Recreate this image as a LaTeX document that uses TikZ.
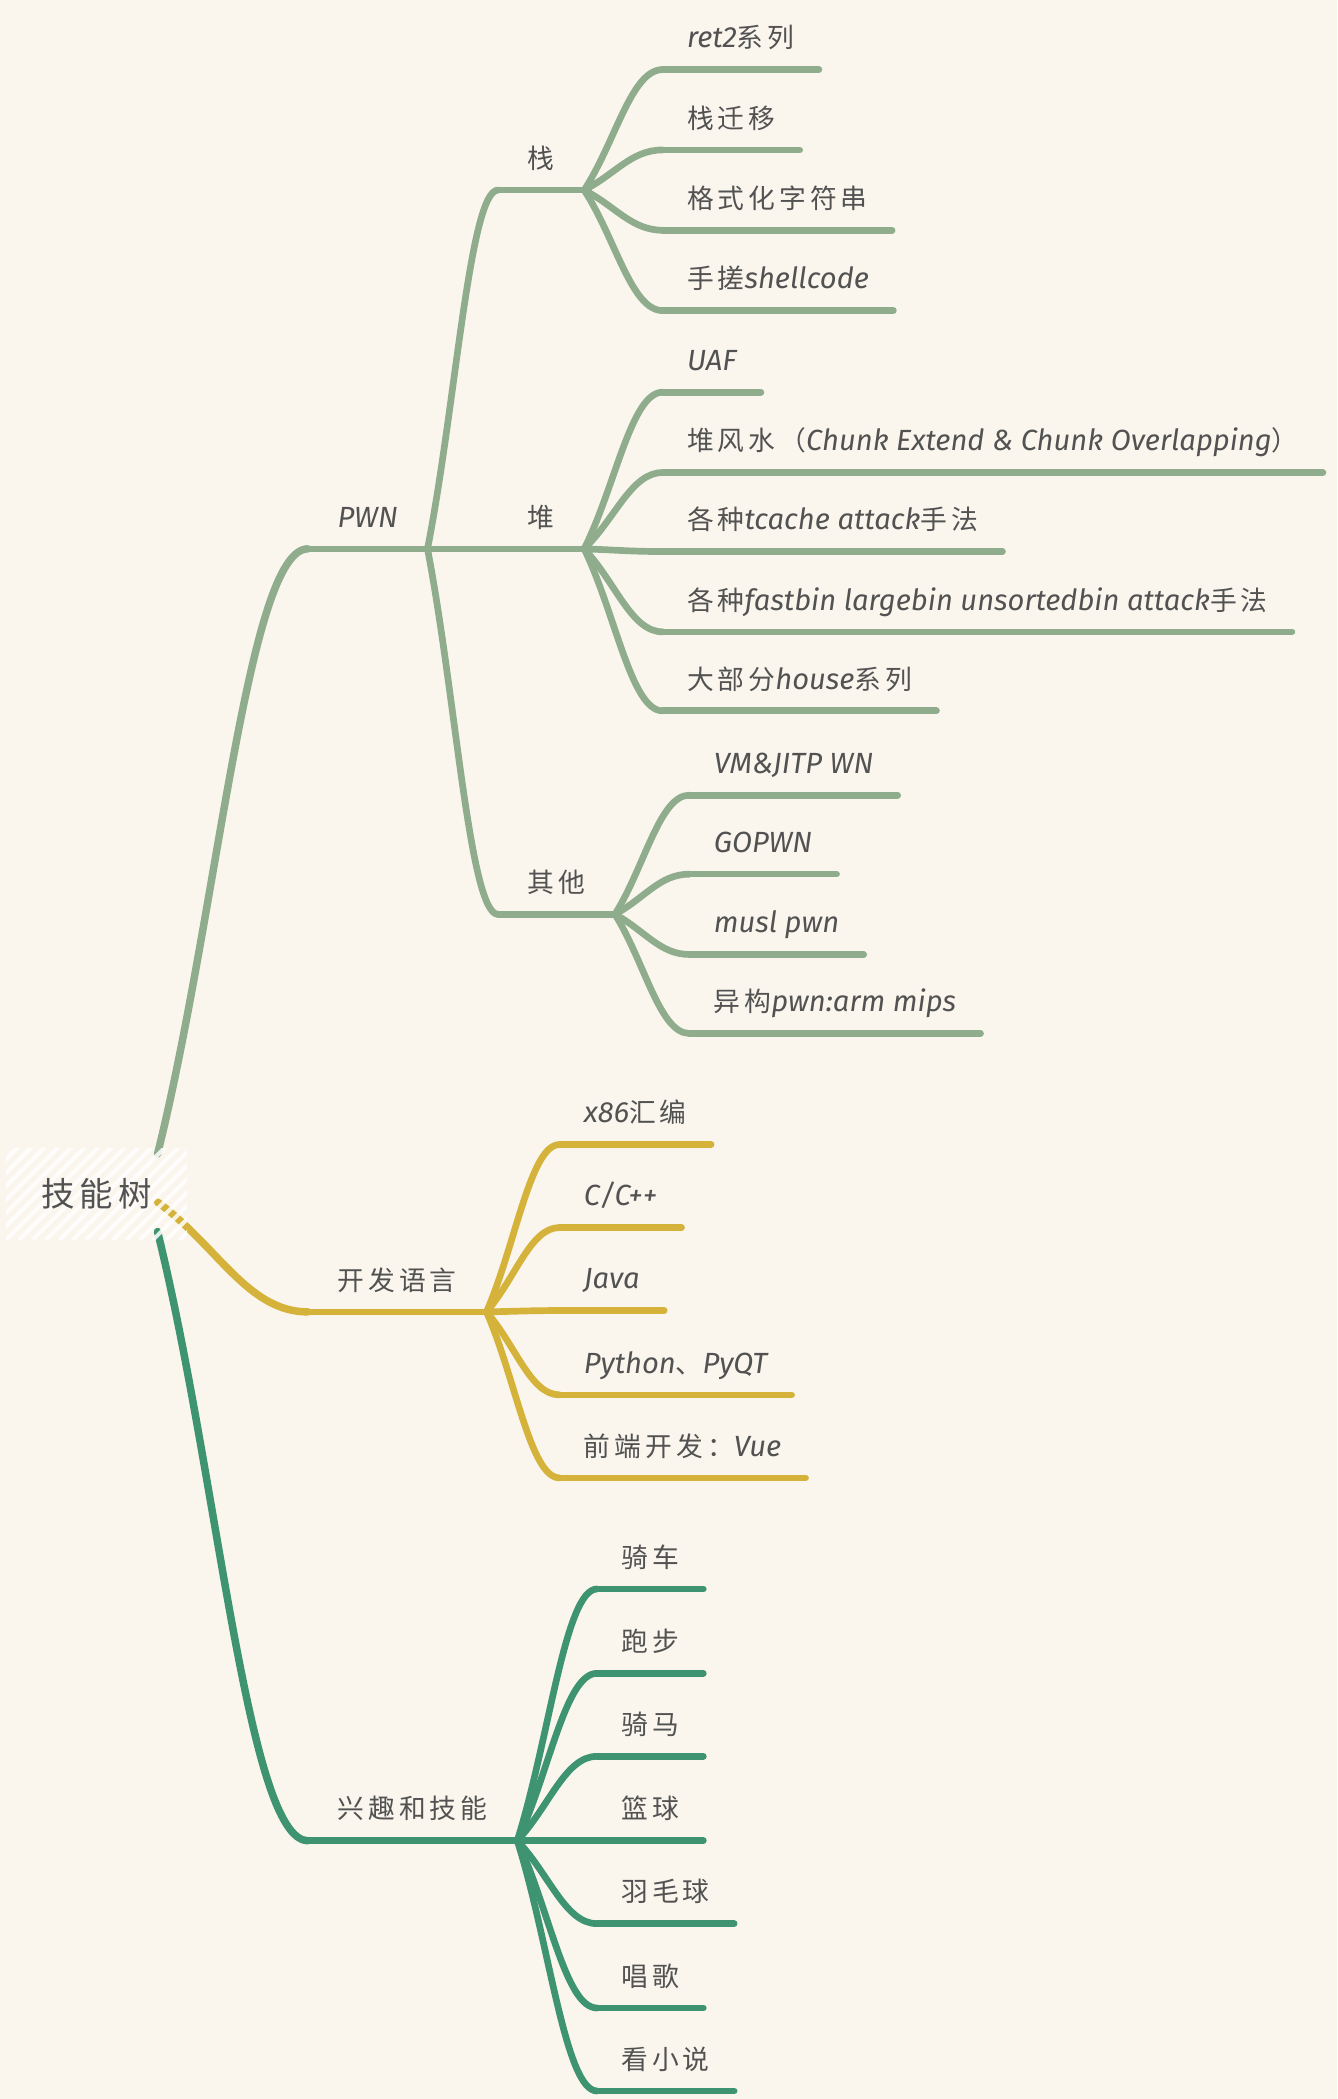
\documentclass[tikz,border=0pt]{standalone}
\usepackage{fontspec}
\setmainfont{Fira Sans}
\newfontfamily\cjk{Noto Sans CJK SC}[LetterSpace=15]
\newcommand{\zh}[1]{{\cjk\upshape\fontsize{20}{24}\selectfont #1}}
\usepackage{tikz}
\usetikzlibrary{calc}

\definecolor{paper}{HTML}{FAF6ED}
\definecolor{ink}{HTML}{525252}
\definecolor{pwngreen}{HTML}{8FAD8C}
\definecolor{langyellow}{HTML}{D5B23A}
\definecolor{hobbyteal}{HTML}{3E9470}

\pgfdeclarelayer{paperlayer}
\pgfdeclarelayer{branchlayer}
\pgfsetlayers{paperlayer,branchlayer,main}

\begin{document}
\begin{tikzpicture}[x=1pt,y=-1pt]
            \tikzstyle{topic} = [anchor=south west, inner xsep=22pt, inner ysep=11pt, text height=15pt, text depth=5pt, text=ink, font=\itshape\fontsize{21.8}{24}\selectfont]
            \tikzstyle{leaf} = [topic, inner xsep=18pt]
            \tikzstyle{rootbox} = [minimum width=135pt, minimum height=68pt, inner sep=0pt, text=ink, font=\fontsize{25}{30}\selectfont]
            \tikzstyle{branch} = [to path={let \p1=(\tikztostart), \p2=(\tikztotarget) in
                .. controls ({\x1+0.4*(\x2-\x1)},{\y1+0.4*(\y2-\y1)}) and ({\x2-0.4*(\x2-\x1)},\y2) .. (\tikztotarget)}]
            \tikzstyle{twig} = [line width=5pt, line cap=round]
            \tikzstyle{hatch} = [white, opacity=.85, line width=3pt]

            \useasboundingbox (0,0) rectangle (999,1568);
            \begin{pgfonlayer}{paperlayer}
                \fill[paper] (0,0) rectangle (999,1568);
            \end{pgfonlayer}

            \node (root) [rootbox] at (72,892) {{\cjk 技能树}};

            % PWN
            \node (pwn) [topic] at (230,410) {PWN};
            \node (stack) [topic] at (372,142) {\zh{栈}};
            \node (heap) [topic] at (372,410) {\zh{堆}};
            \node (other) [topic] at (372,683) {\zh{其他}};

            \node (ret) [leaf] at (495,52) {ret2\zh{系列}};
            \node (pivot) [leaf] at (495,112) {\zh{栈迁移}};
            \node (fmtstr) [leaf] at (495,172) {\zh{格式化字符串}};
            \node (shellcode) [leaf] at (495,232) {\zh{手搓}shellcode};

            \node (uaf) [leaf] at (495,293) {UAF};
            \node (fengshui) [leaf] at (495,353) {\zh{堆风水（}Chunk Extend \& Chunk Overlapping\zh{）}};
            \node (tcache) [leaf] at (495,412) {\zh{各种}tcache attack\zh{手法}};
            \node (fastbin) [leaf] at (495,472) {\zh{各种}fastbin largebin unsortedbin attack\zh{手法}};
            \node (house) [leaf] at (495,531) {\zh{大部分}house\zh{系列}};

            \node (vmjit) [leaf] at (515,594) {VM\&JITP WN};
            \node (gopwn) [leaf] at (515,653) {GOPWN};
            \node (musl) [leaf] at (515,713) {musl pwn};
            \node (arch) [leaf] at (515,772) {\zh{异构}pwn:arm mips};

            % languages
            \node (lang) [topic] at (230,980) {\zh{开发语言}};
            \node (asm) [leaf] at (418,855) {x86\zh{汇编}};
            \node (cpp) [leaf] at (418,917) {C/C++};
            \node (java) [leaf] at (418,979) {Java};
            \node (python) [leaf] at (418,1042) {Python\zh{、}PyQT};
            \node (vue) [leaf] at (418,1104) {\zh{前端开发：}Vue};

            % hobbies
            \node (hobby) [topic] at (230,1375) {\zh{兴趣和技能}};
            \node (bike) [leaf] at (446,1187) {\zh{骑车}};
            \node (run) [leaf] at (446,1250) {\zh{跑步}};
            \node (horse) [leaf] at (446,1312) {\zh{骑马}};
            \node (basket) [leaf] at (446,1375) {\zh{篮球}};
            \node (badminton) [leaf] at (446,1437) {\zh{羽毛球}};
            \node (sing) [leaf] at (446,1500) {\zh{唱歌}};
            \node (novel) [leaf] at (446,1562) {\zh{看小说}};

            \begin{pgfonlayer}{branchlayer}
                \begin{scope}[twig, pwngreen]
                    \draw ($(root.east)+(-22,-30)$) edge[branch, line width=5.6pt] (pwn.south west);
                    \draw (pwn.south west) -- (pwn.south east);
                    \draw (pwn.south east) edge[branch] (stack.south west);
                    \draw (pwn.south east) edge[branch] (heap.south west);
                    \draw (pwn.south east) edge[branch] (other.south west);
                    \draw (stack.south west) -- (stack.south east);
                    \draw (heap.south west) -- (heap.south east);
                    \draw (other.south west) -- (other.south east);

                    \draw (stack.south east) edge[branch] (ret.south west);
                    \draw (stack.south east) edge[branch] (pivot.south west);
                    \draw (stack.south east) edge[branch] (fmtstr.south west);
                    \draw (stack.south east) edge[branch] (shellcode.south west);
                    \draw (ret.south west) -- (ret.south east);
                    \draw (pivot.south west) -- (pivot.south east);
                    \draw (fmtstr.south west) -- (fmtstr.south east);
                    \draw (shellcode.south west) -- (shellcode.south east);

                    \draw (heap.south east) edge[branch] (uaf.south west);
                    \draw (heap.south east) edge[branch] (fengshui.south west);
                    \draw (heap.south east) edge[branch] (tcache.south west);
                    \draw (heap.south east) edge[branch] (fastbin.south west);
                    \draw (heap.south east) edge[branch] (house.south west);
                    \draw (uaf.south west) -- (uaf.south east);
                    \draw (fengshui.south west) -- (fengshui.south east);
                    \draw (tcache.south west) -- (tcache.south east);
                    \draw (fastbin.south west) -- (fastbin.south east);
                    \draw (house.south west) -- (house.south east);

                    \draw (other.south east) edge[branch] (vmjit.south west);
                    \draw (other.south east) edge[branch] (gopwn.south west);
                    \draw (other.south east) edge[branch] (musl.south west);
                    \draw (other.south east) edge[branch] (arch.south west);
                    \draw (vmjit.south west) -- (vmjit.south east);
                    \draw (gopwn.south west) -- (gopwn.south east);
                    \draw (musl.south west) -- (musl.south east);
                    \draw (arch.south west) -- (arch.south east);
                \end{scope}

                \begin{scope}[twig, langyellow]
                    \draw ($(root.east)+(-22,6)$) edge[branch, line width=5.6pt] (lang.south west);
                    \draw (lang.south west) -- (lang.south east);
                    \draw (lang.south east) edge[branch] (asm.south west);
                    \draw (lang.south east) edge[branch] (cpp.south west);
                    \draw (lang.south east) edge[branch] (java.south west);
                    \draw (lang.south east) edge[branch] (python.south west);
                    \draw (lang.south east) edge[branch] (vue.south west);
                    \draw (asm.south west) -- (asm.south east);
                    \draw (cpp.south west) -- (cpp.south east);
                    \draw (java.south west) -- (java.south east);
                    \draw (python.south west) -- (python.south east);
                    \draw (vue.south west) -- (vue.south east);
                \end{scope}

                \begin{scope}[twig, hobbyteal]
                    \draw ($(root.east)+(-22,28)$) edge[branch, line width=5.6pt] (hobby.south west);
                    \draw (hobby.south west) -- (hobby.south east);
                    \draw (hobby.south east) edge[branch] (bike.south west);
                    \draw (hobby.south east) edge[branch] (run.south west);
                    \draw (hobby.south east) edge[branch] (horse.south west);
                    \draw (hobby.south east) edge[branch] (basket.south west);
                    \draw (hobby.south east) edge[branch] (badminton.south west);
                    \draw (hobby.south east) edge[branch] (sing.south west);
                    \draw (hobby.south east) edge[branch] (novel.south west);
                    \draw (bike.south west) -- (bike.south east);
                    \draw (run.south west) -- (run.south east);
                    \draw (horse.south west) -- (horse.south east);
                    \draw (basket.south west) -- (basket.south east);
                    \draw (badminton.south west) -- (badminton.south east);
                    \draw (sing.south west) -- (sing.south east);
                    \draw (novel.south west) -- (novel.south east);
                \end{scope}

                % hatching over the root
                \begin{scope}
                    \clip (root.south west) rectangle (root.north east);
                    \foreach \k in {-70,-60,...,140}
                        \draw[hatch] ($(root.south west)+(\k,0)$) -- ++(70,-70);
                \end{scope}
            \end{pgfonlayer}
        \end{tikzpicture}
\end{document}
